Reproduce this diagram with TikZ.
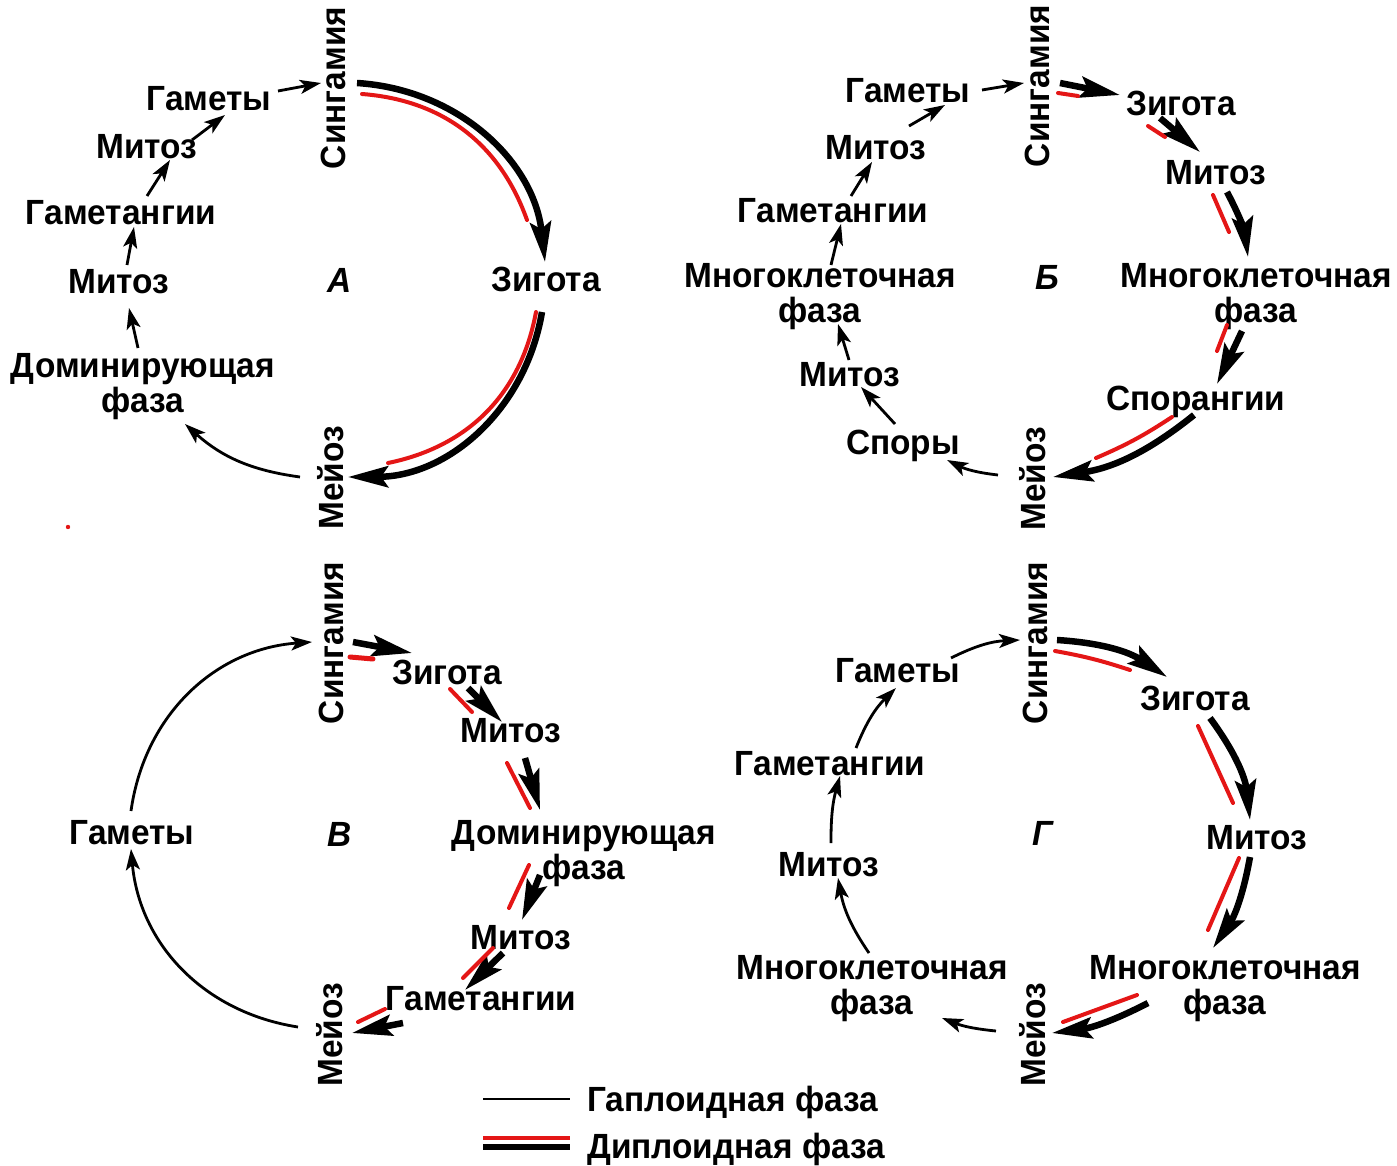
\documentclass[tikz,border=0pt]{standalone}
\usepackage{fontspec}
\newfontfamily\lab{Liberation Sans Bold}[FakeStretch=0.955]
\newfontfamily\labit{Liberation Sans Bold Italic}[FakeStretch=0.955]
\usetikzlibrary{arrows.meta}
\definecolor{dred}{RGB}{228,22,22}
\tikzset{
  lbl/.style={font=\lab\fontsize{35}{35}\selectfont, inner sep=0pt, text height=25pt, text depth=0pt},
  lbltwo/.style={font=\lab\fontsize{35}{35}\selectfont, inner sep=0pt, align=center, anchor=north},
  rot/.style={lbl, rotate=90},
  plab/.style={lbl, font=\labit\fontsize{35}{35}\selectfont},
  hap/.style={line width=2.8pt, -{Stealth[length=21pt,width=14pt,inset=5pt]}},
  dip/.style={line width=6.5pt, -{Stealth[length=40pt,width=21pt,inset=7pt]}},
  dipred/.style={line width=4pt, draw=dred, line cap=round},
}
\begin{document}
\begin{tikzpicture}[x=1pt,y=1pt]
\fill[white] (0,0) rectangle (1397,-1166);
\useasboundingbox (0,0) rectangle (1397,-1166);

% ================= Panel A =================
\node[rot] (sA) at (333,-88) {Сингамия};
\node[lbl] (gamA) at (209,-98) {Гаметы};
\node[lbl] (mitAa) at (147,-146) {Митоз};
\node[lbl] (gtA) at (121,-212) {Гаметангии};
\node[lbl] (mitAb) at (119,-281) {Митоз};
\node[lbltwo] (domA) at (143,-353.5) {Доминирующая\\фаза};
\node[rot] (mA) at (331,-478) {Мейоз};
\node[lbl] (zA) at (546,-279) {Зигота};
\node[plab] (labA) at (340,-280) {А};

\coordinate (a1) at (278,-91);  \coordinate (a2) at (321,-83);
\coordinate (a3) at (192,-140); \coordinate (a4) at (225,-115);
\coordinate (a5) at (147,-196); \coordinate (a6) at (170,-160);
\coordinate (a7) at (127,-265); \coordinate (a8) at (134,-227);
\coordinate (a9) at (138,-348); \coordinate (a10) at (129,-308);
\coordinate (a11) at (300,-477); \coordinate (a12) at (185,-424);
\coordinate (a13) at (357,-83); \coordinate (a14) at (545,-262);
\coordinate (a15) at (362,-94); \coordinate (a16) at (527,-220);
\coordinate (a17) at (542,-312); \coordinate (a18) at (348,-477);
\coordinate (a19) at (536,-312); \coordinate (a20) at (388,-463);

\draw[hap] (a1) -- (a2);
\draw[hap] (a3) -- (a4);
\draw[hap] (a5) -- (a6);
\draw[hap] (a7) -- (a8);
\draw[hap] (a9) -- (a10);
\draw[hap] (a11) to[bend left=17] (a12);
\draw[dip] (a13) to[bend left=40] (a14);
\draw[dipred] (a15) to[bend left=33] (a16);
\draw[dip] (a17) to[bend left=40] (a18);
\draw[dipred] (a19) to[bend left=34] (a20);

% ================= Panel B =================
\node[rot] (sB) at (1037,-86) {Сингамия};
\node[lbl] (gamB) at (908,-90) {Гаметы};
\node[lbl] (mitBa) at (876,-147) {Митоз};
\node[lbl] (gtB) at (833,-210) {Гаметангии};
\node[lbltwo] (mkBa) at (820,-263.5) {Многоклеточная\\фаза};
\node[lbl] (mitBb) at (850,-374) {Митоз};
\node[lbl] (spB) at (903,-442) {Споры};
\node[rot] (mB) at (1033,-479) {Мейоз};
\node[plab] (labB) at (1047,-277) {Б};
\node[lbl] (zB) at (1181,-103) {Зигота};
\node[lbl] (mitBc) at (1216,-172) {Митоз};
\node[lbltwo] (mkBb) at (1256,-263.5) {Многоклеточная\\фаза};
\node[lbl] (sprB) at (1196,-398) {Спорангии};

\coordinate (b1) at (982,-90);  \coordinate (b2) at (1024,-83);
\coordinate (b3) at (909,-126); \coordinate (b4) at (945,-105);
\coordinate (b5) at (851,-196); \coordinate (b6) at (872,-162);
\coordinate (b7) at (831,-265); \coordinate (b8) at (841,-224);
\coordinate (b9) at (849,-360); \coordinate (b10) at (838,-324);
\coordinate (b11) at (895,-424); \coordinate (b12) at (861,-387);
\coordinate (b13) at (998,-475); \coordinate (b14) at (947,-460);
\coordinate (b15) at (1060,-83); \coordinate (b16) at (1120,-95);
\coordinate (b17) at (1058,-93); \coordinate (b18) at (1078,-96);
\coordinate (b19) at (1160,-118); \coordinate (b20) at (1200,-152);
\coordinate (b21) at (1148,-126); \coordinate (b22) at (1165,-137);
\coordinate (b23) at (1227,-192); \coordinate (b24) at (1248,-257);
\coordinate (b25) at (1213,-195); \coordinate (b26) at (1229,-232);
\coordinate (b27) at (1242,-331); \coordinate (b28) at (1217,-384);
\coordinate (b29) at (1227,-325); \coordinate (b30) at (1217,-351);
\coordinate (b31) at (1194,-415); \coordinate (b32) at (1053,-477);
\coordinate (b33) at (1172,-417); \coordinate (b34) at (1096,-458);

\draw[hap] (b1) -- (b2);
\draw[hap] (b3) -- (b4);
\draw[hap] (b5) -- (b6);
\draw[hap] (b7) -- (b8);
\draw[hap] (b9) -- (b10);
\draw[hap] (b11) -- (b12);
\draw[hap] (b13) to[bend left=10] (b14);
\draw[dip] (b15) -- (b16);
\draw[dipred] (b17) -- (b18);
\draw[dip] (b19) -- (b20);
\draw[dipred] (b21) -- (b22);
\draw[dip] (b23) to[bend left=10] (b24);
\draw[dipred] (b25) -- (b26);
\draw[dip] (b27) -- (b28);
\draw[dipred] (b29) -- (b30);
\draw[dip] (b31) to[bend left=15] (b32);
\draw[dipred] (b33) to[bend left=5] (b34);

% ================= Panel V =================
\node[rot] (sC) at (331,-643) {Сингамия};
\node[lbl] (zC) at (447,-672) {Зигота};
\node[lbl] (mitCa) at (511,-730) {Митоз};
\node[lbltwo] (domC) at (584,-820.5) {Доминирующая\\фаза};
\node[lbl] (mitCb) at (521,-937) {Митоз};
\node[lbl] (gtC) at (481,-998) {Гаметангии};
\node[rot] (mC) at (330,-1035) {Мейоз};
\node[lbl] (gamC) at (132,-832) {Гаметы};
\node[plab] (labC) at (340,-834) {В};

\coordinate (c1) at (298,-1027); \coordinate (c2) at (131,-849);
\coordinate (c3) at (131,-811); \coordinate (c4) at (312,-642);
\coordinate (c5) at (353,-642); \coordinate (c6) at (412,-653);
\coordinate (c7) at (350,-657); \coordinate (c8) at (373,-659);
\coordinate (c9) at (468,-688); \coordinate (c10) at (502,-722);
\coordinate (c11) at (450,-689); \coordinate (c12) at (472,-712);
\coordinate (c13) at (525,-758); \coordinate (c14) at (540,-810);
\coordinate (c15) at (507,-763); \coordinate (c16) at (530,-808);
\coordinate (c17) at (540,-875); \coordinate (c18) at (522,-920);
\coordinate (c19) at (529,-865); \coordinate (c20) at (509,-908);
\coordinate (c21) at (503,-953); \coordinate (c22) at (465,-990);
\coordinate (c23) at (493,-948); \coordinate (c24) at (463,-978);
\coordinate (c25) at (403,-1023); \coordinate (c26) at (352,-1033);
\coordinate (c27) at (385,-1009); \coordinate (c28) at (358,-1022);

\draw[hap] (c1) to[bend left=38] (c2);
\draw[hap] (c3) to[bend left=39] (c4);
\draw[dip] (c5) -- (c6);
\draw[dipred, line width=5pt] (c7) -- (c8);
\draw[dip] (c9) -- (c10);
\draw[dipred] (c11) -- (c12);
\draw[dip] (c13) -- (c14);
\draw[dipred] (c15) -- (c16);
\draw[dip] (c17) -- (c18);
\draw[dipred] (c19) -- (c20);
\draw[dip] (c21) -- (c22);
\draw[dipred] (c23) -- (c24);
\draw[dip] (c25) -- (c26);
\draw[dipred] (c27) -- (c28);

% ================= Panel G =================
\node[rot] (sD) at (1035,-643) {Сингамия};
\node[lbl] (gamD) at (898,-670) {Гаметы};
\node[lbl] (gtD) at (830,-763) {Гаметангии};
\node[lbl] (mitDa) at (829,-864) {Митоз};
\node[lbltwo] (mkDa) at (872,-955.5) {Многоклеточная\\фаза};
\node[rot] (mD) at (1033,-1035) {Мейоз};
\node[plab] (labD) at (1043,-833) {Г};
\node[lbl] (zD) at (1195,-698) {Зигота};
\node[lbl] (mitDb) at (1257,-837) {Митоз};
\node[lbltwo] (mkDb) at (1225,-955.5) {Многоклеточная\\фаза};

\coordinate (d1) at (951,-658); \coordinate (d2) at (1020,-640);
\coordinate (d3) at (856,-748); \coordinate (d4) at (896,-688);
\coordinate (d5) at (831,-843); \coordinate (d6) at (840,-776);
\coordinate (d7) at (869,-953); \coordinate (d8) at (838,-878);
\coordinate (d9) at (996,-1031); \coordinate (d10) at (942,-1018);
\coordinate (d11) at (1057,-640); \coordinate (d12) at (1167,-677);
\coordinate (d13) at (1055,-651); \coordinate (d14) at (1130,-670);
\coordinate (d15) at (1210,-718); \coordinate (d16) at (1250,-820);
\coordinate (d17) at (1198,-726); \coordinate (d18) at (1233,-803);
\coordinate (d19) at (1250,-857); \coordinate (d20) at (1213,-948);
\coordinate (d21) at (1239,-858); \coordinate (d22) at (1208,-930);
\coordinate (d23) at (1148,-1003); \coordinate (d24) at (1052,-1033);
\coordinate (d25) at (1137,-995); \coordinate (d26) at (1063,-1022);

\draw[hap] (d1) to[bend left=12] (d2);
\draw[hap] (d3) to[bend left=12] (d4);
\draw[hap] (d5) to[bend left=8] (d6);
\draw[hap] (d7) to[bend left=12] (d8);
\draw[hap] (d9) to[bend left=8] (d10);
\draw[dip] (d11) to[bend left=15] (d12);
\draw[dipred] (d13) to[bend left=4] (d14);
\draw[dip] (d15) to[bend left=15] (d16);
\draw[dipred] (d17) -- (d18);
\draw[dip] (d19) to[bend left=12] (d20);
\draw[dipred] (d21) -- (d22);
\draw[dip] (d23) to[bend left=10] (d24);
\draw[dipred] (d25) -- (d26);

% ================= Legend =================
\coordinate (l1) at (483,-1099); \coordinate (l2) at (570,-1099);
\coordinate (l3) at (483,-1138); \coordinate (l4) at (570,-1138);
\coordinate (l5) at (483,-1147); \coordinate (l6) at (570,-1147);
\draw[line width=2.8pt] (l1) -- (l2);
\draw[line width=4pt, draw=dred] (l3) -- (l4);
\draw[line width=6pt] (l5) -- (l6);
\node[lbl, anchor=west] (legH) at (587,-1099) {Гаплоидная фаза};
\node[lbl, anchor=west] (legD) at (587,-1146) {Диплоидная фаза};

\fill[dred] (68,-527) circle (2.2);
\end{tikzpicture}
\end{document}
